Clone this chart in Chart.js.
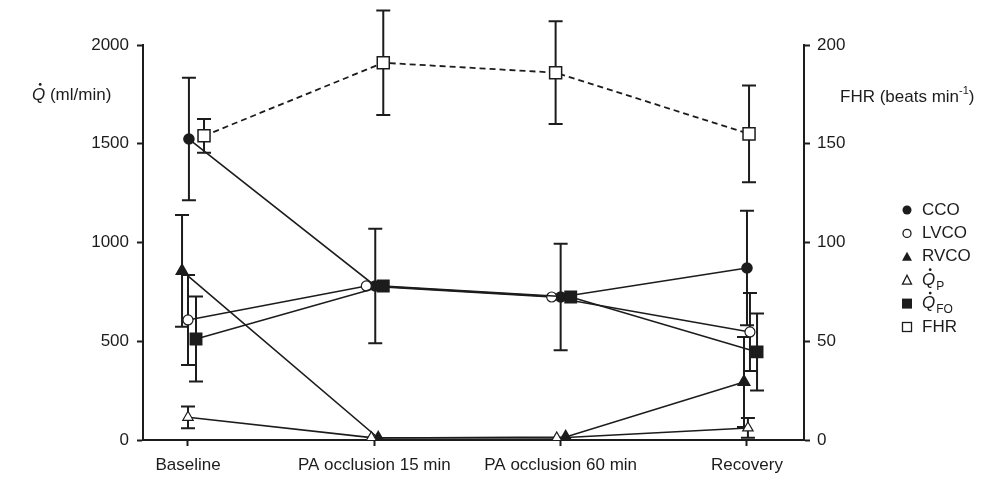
<!DOCTYPE html>
<html>
<head>
<meta charset="utf-8">
<script src="https://cdn.jsdelivr.net/npm/chart.js@4"></script>
<style>
  html, body { margin: 0; padding: 0; background: #fff; }
  #wrap { width: 987px; height: 477px; position: relative; }
</style>
</head>
<body>
<div id="wrap"><canvas id="flowChart"></canvas></div>
<script>
// categories and values
const categories = ['Baseline', 'PA occlusion 15 min', 'PA occlusion 60 min', 'Recovery'];
const cco = [1524, 780, 724, 871];
const ccoSd = [310, 290, 270, 290];
const lvco = [608, 780, 724, 547];
const lvcoSd = [228, null, null, 197];
const rvco = [856, 10, 15, 294];
const rvcoSd = [283, null, null, 228];
const qp = [115, 12, 10, 61];
const qpSd = [55, null, null, 50];
const qfo = [511, 780, 724, 446];
const qfoSd = [215, null, null, 195];
const fhr = [154, 191, 186, 155];
const fhrSd = [8.5, 26.5, 26, 24.5];
const flowTicks = [0, 500, 1000, 1500, 2000];
const fhrTicks = [0, 50, 100, 150, 200];

const INK = '#1c1c1c';
const FONT = '"Liberation Sans", Arial, sans-serif';

// small horizontal shifts so overlapping markers stay visible
function toPoints(values, shifts) {
  return values.map((v, i) => ({ x: i + shifts[i], y: v }));
}

const errorBars = {
  id: 'errorBars',
  beforeDatasetsDraw(chart) {
    const ctx = chart.ctx;
    const xs = chart.scales.x;
    ctx.save();
    ctx.strokeStyle = INK;
    ctx.lineWidth = 2;
    chart.data.datasets.forEach(ds => {
      if (!ds.sd) return;
      const ys = chart.scales[ds.yAxisID];
      ds.data.forEach((p, i) => {
        const sd = ds.sd[i];
        if (sd == null) return;
        const x = xs.getPixelForValue(p.x);
        const top = ys.getPixelForValue(p.y + sd);
        const bot = ys.getPixelForValue(Math.max(p.y - sd, 0));
        ctx.beginPath();
        ctx.moveTo(x, top); ctx.lineTo(x, bot);
        ctx.moveTo(x - 7, top); ctx.lineTo(x + 7, top);
        if (p.y - sd > 0) { ctx.moveTo(x - 7, bot); ctx.lineTo(x + 7, bot); }
        ctx.stroke();
      });
    });
    ctx.restore();
  }
};

function qDot(ctx, x, y, size) {
  // italic Q with a dot over it
  ctx.font = 'italic ' + size + 'px ' + FONT;
  ctx.textBaseline = 'middle';
  ctx.fillText('Q', x, y);
  const w = ctx.measureText('Q').width;
  ctx.beginPath();
  ctx.arc(x + w * 0.62, y - size * 0.62, 1.4, 0, Math.PI * 2);
  ctx.fill();
  return w;
}

const annotations = {
  id: 'annotations',
  afterDraw(chart) {
    const ctx = chart.ctx;
    ctx.save();
    ctx.fillStyle = INK;
    ctx.strokeStyle = INK;
    ctx.textAlign = 'left';

    // left axis title
    let w = qDot(ctx, 32, 95, 17);
    ctx.font = '17px ' + FONT;
    ctx.fillText(' (ml/min)', 32 + w, 95);

    // right axis title
    ctx.font = '17px ' + FONT;
    const t = 'FHR (beats min';
    ctx.fillText(t, 840, 97);
    let tx = 840 + ctx.measureText(t).width;
    ctx.font = '11px ' + FONT;
    ctx.fillText('-1', tx, 91);
    tx += ctx.measureText('-1').width;
    ctx.font = '17px ' + FONT;
    ctx.fillText(')', tx, 97);

    // legend
    const sx = 907, lx = 922;
    const rows = [210, 233.4, 256.8, 280.2, 303.6, 327];
    ctx.lineWidth = 1.3;
    // CCO
    ctx.beginPath(); ctx.arc(sx, rows[0], 4.5, 0, Math.PI * 2); ctx.fill();
    // LVCO
    ctx.beginPath(); ctx.arc(sx, rows[1], 4, 0, Math.PI * 2); ctx.stroke();
    // RVCO
    ctx.beginPath();
    ctx.moveTo(sx, rows[2] - 5); ctx.lineTo(sx + 5, rows[2] + 4); ctx.lineTo(sx - 5, rows[2] + 4);
    ctx.closePath(); ctx.fill();
    // Qp
    ctx.beginPath();
    ctx.moveTo(sx, rows[3] - 5); ctx.lineTo(sx + 4.5, rows[3] + 4); ctx.lineTo(sx - 4.5, rows[3] + 4);
    ctx.closePath(); ctx.stroke();
    // QFO
    ctx.fillRect(sx - 5, rows[4] - 5, 10, 10);
    // FHR
    ctx.strokeRect(sx - 4.5, rows[5] - 4.5, 9, 9);

    ctx.font = '17px ' + FONT;
    ctx.fillText('CCO', lx, rows[0]);
    ctx.fillText('LVCO', lx, rows[1]);
    ctx.fillText('RVCO', lx, rows[2]);
    w = qDot(ctx, lx, rows[3], 17);
    ctx.font = '12px ' + FONT;
    ctx.fillText('P', lx + w + 1, rows[3] + 6);
    w = qDot(ctx, lx, rows[4], 17);
    ctx.font = '12px ' + FONT;
    ctx.fillText('FO', lx + w + 1, rows[4] + 6);
    ctx.font = '17px ' + FONT;
    ctx.fillText('FHR', lx, rows[5]);
    ctx.restore();
  }
};

const axisBits = {
  display: true,
  drawOnChartArea: false,
  drawTicks: true,
  tickLength: 6,
  tickWidth: 2,
  color: INK
};

new Chart(document.getElementById('flowChart'), {
  type: 'line',
  data: {
    datasets: [
      {
        label: 'FHR',
        data: toPoints(fhr, [0.086, 0.048, -0.027, 0.011]),
        sd: fhrSd,
        yAxisID: 'y1',
        borderColor: INK,
        borderWidth: 1.8,
        borderDash: [6, 4],
        pointStyle: 'rect',
        pointRadius: 8.5,
        pointBackgroundColor: '#fff',
        pointBorderColor: INK,
        pointBorderWidth: 1.5,
        order: 6
      },
      {
        label: 'CCO',
        data: toPoints(cco, [0.005, 0.005, 0, 0]),
        sd: ccoSd,
        yAxisID: 'y',
        borderColor: INK,
        borderWidth: 1.6,
        pointStyle: 'circle',
        pointRadius: 5,
        pointBackgroundColor: INK,
        pointBorderColor: INK,
        order: 5
      },
      {
        label: 'LVCO',
        data: toPoints(lvco, [0, -0.043, -0.048, 0.016]),
        sd: lvcoSd,
        yAxisID: 'y',
        borderColor: INK,
        borderWidth: 1.6,
        pointStyle: 'circle',
        pointRadius: 5,
        pointBackgroundColor: '#fff',
        pointBorderColor: INK,
        pointBorderWidth: 1.2,
        order: 4
      },
      {
        label: 'RVCO',
        data: toPoints(rvco, [-0.032, 0.021, 0.027, -0.016]),
        sd: rvcoSd,
        yAxisID: 'y',
        borderColor: INK,
        borderWidth: 1.6,
        pointStyle: 'triangle',
        pointRadius: 6.5,
        pointBackgroundColor: INK,
        pointBorderColor: INK,
        order: 3
      },
      {
        label: 'Qp',
        data: toPoints(qp, [0, -0.016, -0.021, 0.005]),
        sd: qpSd,
        yAxisID: 'y',
        borderColor: INK,
        borderWidth: 1.6,
        pointStyle: 'triangle',
        pointRadius: 6,
        pointBackgroundColor: '#fff',
        pointBorderColor: INK,
        pointBorderWidth: 1.2,
        order: 2
      },
      {
        label: 'QFO',
        data: toPoints(qfo, [0.043, 0.048, 0.054, 0.054]),
        sd: qfoSd,
        yAxisID: 'y',
        borderColor: INK,
        borderWidth: 1.6,
        pointStyle: 'rect',
        pointRadius: 8,
        pointBackgroundColor: INK,
        pointBorderColor: INK,
        order: 1
      }
    ]
  },
  options: {
    responsive: true,
    maintainAspectRatio: false,
    animation: false,
    layout: { padding: { top: 45, left: 0, right: 0, bottom: 0 } },
    plugins: {
      legend: { display: false },
      tooltip: { enabled: false }
    },
    scales: {
      x: {
        type: 'linear',
        min: -0.2415,
        max: 3.306,
        afterBuildTicks(scale) {
          scale.ticks = categories.map((c, i) => ({ value: i }));
        },
        afterFit(scale) { scale.height = 37; },
        ticks: {
          color: INK,
          font: { family: FONT, size: 17 },
          padding: 9,
          maxRotation: 0,
          autoSkip: false,
          callback: v => categories[v]
        },
        grid: axisBits,
        border: { display: true, color: INK, width: 2 }
      },
      y: {
        position: 'left',
        min: 0,
        max: 2000,
        afterBuildTicks(scale) {
          scale.ticks = flowTicks.map(v => ({ value: v }));
        },
        afterFit(scale) { scale.width = 143; },
        ticks: {
          color: INK,
          font: { family: FONT, size: 17 },
          padding: 8,
          callback: v => String(v)
        },
        grid: axisBits,
        border: { display: true, color: INK, width: 2 }
      },
      y1: {
        position: 'right',
        min: 0,
        max: 200,
        afterBuildTicks(scale) {
          scale.ticks = fhrTicks.map(v => ({ value: v }));
        },
        afterFit(scale) { scale.width = 183; },
        ticks: {
          color: INK,
          font: { family: FONT, size: 17 },
          padding: 7,
          callback: v => String(v)
        },
        grid: axisBits,
        border: { display: true, color: INK, width: 2 }
      }
    }
  },
  plugins: [errorBars, annotations]
});
</script>
</body>
</html>
